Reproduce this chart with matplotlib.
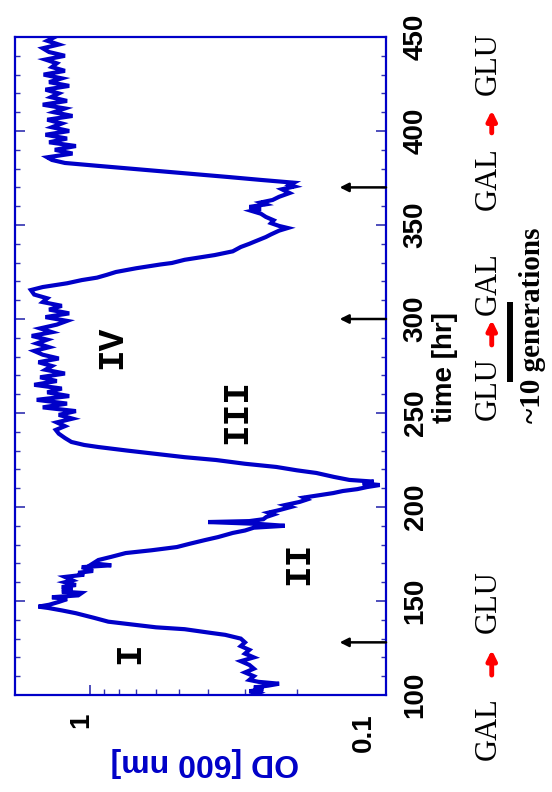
import numpy as np
import matplotlib
matplotlib.use('Agg')
import matplotlib.pyplot as plt
from matplotlib.transforms import blended_transform_factory, ScaledTranslation
from matplotlib.ticker import NullFormatter

# growth curve: time [hr] and OD [600 nm]
t_hr = [100, 101, 102, 103, 104, 105, 106, 107, 108, 110, 112, 114, 116, 118, 120,
        122, 124, 126, 128, 130,
        132, 133, 135, 136, 137.5, 139, 141, 143.5, 145, 146.3, 147,
        148, 149.5, 151, 152, 153, 154.3, 155, 156, 157.4, 158.5, 160, 161, 162.8,
        164, 165, 166, 168, 169, 170, 171.8,
        173.5, 175.5, 177, 178.7, 180.5, 182.4, 184, 186.2, 187.5, 189, 190, 191,
        192, 192.5, 193.5, 194.7, 196, 197, 198.4,
        200, 201, 202.7, 204, 205, 207.4, 208.5, 209.5, 210.6, 211.7, 212.5, 213.5,
        214.4, 216, 218.1, 219.5, 221.3, 223, 225,
        226.5, 228.7, 230, 231.9, 233, 234.6, 236.7, 239, 241,
        243, 245, 247, 249, 251, 253, 255, 257, 259, 261, 263, 265, 267, 269, 271,
        273, 275, 277, 279, 281, 283, 285, 287, 289, 291, 293, 295, 297, 299, 301,
        303, 305, 307, 309, 311, 313, 315.4,
        317, 319, 320.7, 322, 323.5, 325, 327, 329, 329.8, 331.5, 334, 336, 338.3,
        340, 341, 343.6, 345, 347, 348.4, 349.5, 351, 352.5, 354.3, 356, 357.5,
        358.5, 359.6, 361, 362, 363.3, 365, 367, 369, 370.5, 371.3, 372.5,
        374, 375.5, 377, 378.5, 380, 381.5, 383, 384.6,
        386, 388, 390, 392, 394, 396, 398, 400, 402, 404, 406, 408, 410, 412, 414,
        416, 418, 420, 422, 424, 426, 428, 430, 432, 434, 436, 438, 440, 442, 444,
        446, 448, 450]

od = [0.28, 0.27, 0.29, 0.26, 0.28, 0.25, 0.23, 0.27, 0.29, 0.28, 0.30, 0.28,
      0.29, 0.31, 0.28, 0.30, 0.29, 0.31, 0.30, 0.31,
      0.35, 0.39, 0.48, 0.60, 0.72, 0.87, 0.97, 1.12, 1.25, 1.39, 1.50,
      1.38, 1.28, 1.20, 1.35, 1.10, 1.07, 1.25, 1.15, 1.25, 1.12, 1.22, 1.15, 1.22,
      1.05, 1.10, 0.98, 1.07, 0.85, 0.98, 0.94,
      0.85, 0.76, 0.62, 0.51, 0.46, 0.41, 0.37, 0.33, 0.30, 0.28, 0.22, 0.27,
      0.40, 0.29, 0.26, 0.254, 0.24, 0.25, 0.229,
      0.21, 0.22, 0.196, 0.185, 0.19, 0.151, 0.14, 0.125, 0.116, 0.105, 0.12, 0.11,
      0.133, 0.15, 0.172, 0.20, 0.235, 0.30, 0.376,
      0.48, 0.635, 0.75, 0.94, 1.05, 1.16, 1.22, 1.28, 1.31,
      1.22, 1.30, 1.15, 1.28, 1.12, 1.45, 1.20, 1.52, 1.18, 1.40, 1.25, 1.55, 1.30,
      1.48, 1.22, 1.42, 1.35, 1.50, 1.28, 1.45, 1.55, 1.38, 1.52, 1.40, 1.58, 1.35,
      1.48, 1.30, 1.20, 1.42, 1.18, 1.38, 1.25, 1.45, 1.40, 1.55, 1.59,
      1.45, 1.20, 1.07, 0.95, 0.88, 0.82, 0.70, 0.58, 0.53, 0.48, 0.38, 0.33, 0.31,
      0.29, 0.28, 0.255, 0.245, 0.23, 0.215, 0.23, 0.245, 0.24, 0.255, 0.265, 0.285,
      0.265, 0.29, 0.255, 0.265, 0.242, 0.23, 0.212, 0.225, 0.204, 0.212, 0.205,
      0.266, 0.34, 0.44, 0.57, 0.73, 0.95, 1.22, 1.35,
      1.40, 1.15, 1.32, 1.12, 1.38, 1.20, 1.42, 1.18, 1.35, 1.25, 1.40, 1.15, 1.33,
      1.22, 1.45, 1.20, 1.36, 1.28, 1.42, 1.18, 1.38, 1.25, 1.44, 1.22, 1.35, 1.30,
      1.42, 1.22, 1.38, 1.45, 1.28, 1.40, 1.32]

# medium switch times (black arrows)
switch_t = [128, 300, 370]

# phase labels: (text, OD, time)
phases = [('I', 0.736, 122), ('II', 0.198, 170), ('III', 0.32, 250.5), ('IV', 0.849, 285)]

# medium annotations on the right:
# (from, to, t where 'from' ends, arrow tail, arrow head, t where 'to' starts)
media = [('GAL', 'GLU', 99, 110.6, 124, 133),
         ('GLU', 'GAL', 279.8, 286.2, 299.5, 302.1),
         ('GAL', 'GLU', 391.5, 399, 411, 419)]

blue = '#0000c8'
tickblue = '#3030b0'

fig = plt.figure(figsize=(5.52, 7.92), dpi=100)
ax = fig.add_axes([15/552, 97/792, 371/552, 658/792])

ax.plot(od, t_hr, color=blue, lw=3.0, solid_joinstyle='miter')

ax.set_xscale('log')
ax.set_xlim(1.8, 0.1)
ax.set_ylim(100, 450)

for s in ax.spines.values():
    s.set_color(blue)
    s.set_linewidth(1.6)

# OD axis (bottom)
ax.set_xticks([0.1, 1])
ax.set_xticklabels(['0.1', '1'])
ax.set_xticks([0.2, 0.3, 0.4, 0.5, 0.6, 0.7, 0.8, 0.9], minor=True)
ax.xaxis.set_minor_formatter(NullFormatter())
ax.tick_params(axis='x', which='both', direction='in', bottom=True, top=False,
               color=tickblue, labelrotation=90, pad=13)
ax.tick_params(axis='x', which='major', length=7, width=1.2)
ax.tick_params(axis='x', which='minor', length=4, width=1.0)
for lbl, dx in zip(ax.get_xticklabels(), [-22, -9]):
    lbl.set_fontfamily('Liberation Sans')
    lbl.set_fontweight('bold')
    lbl.set_fontsize(20)
    lbl.set_transform(lbl.get_transform() + ScaledTranslation(dx/100, 0, fig.dpi_scale_trans))

# time axis (right labels)
ax.set_yticks(np.arange(100, 451, 50))
ax.set_yticks(np.arange(100, 451, 10), minor=True)
ax.tick_params(axis='y', which='both', direction='in', left=True, right=True,
               labelleft=False, labelright=True, color=tickblue, pad=12)
ax.tick_params(axis='y', which='major', length=7, width=1.2)
ax.tick_params(axis='y', which='minor', length=3.5, width=1.0)
for lbl in ax.get_yticklabels():
    lbl.set_rotation(90)
    lbl.set_va('center')
    lbl.set_fontfamily('Liberation Sans')
    lbl.set_fontweight('bold')
    lbl.set_fontsize(20)

ax.yaxis.set_label_position('right')
ax.set_ylabel('time [hr]', fontfamily='Liberation Sans', fontweight='bold', fontsize=20)
ax.yaxis.set_label_coords(1.124, 0.497)

ax.set_xlabel('OD [600 nm]', fontfamily='Liberation Sans', fontweight='bold',
              fontsize=23, color=blue, rotation=180)
ax.xaxis.set_label_coords(0.512, -0.079)

# switch arrows
for t in switch_t:
    ax.annotate('', xy=(0.1435, t), xytext=(0.1, t), annotation_clip=False,
                arrowprops=dict(arrowstyle='-|>', color='black', lw=1.8,
                                mutation_scale=13, shrinkA=0, shrinkB=0))

for txt, x, t in phases:
    ax.text(x, t, txt, rotation=90, ha='center', va='center',
            fontfamily='Liberation Mono', fontweight='bold', fontsize=26)

tr = blended_transform_factory(ax.transAxes, ax.transData)
for a, b, t0, ta, th, t1 in media:
    ax.text(1.275, t0, a, transform=tr, rotation=90, ha='center', va='top',
            fontfamily='Liberation Serif', fontsize=22, clip_on=False)
    ax.text(1.275, t1, b, transform=tr, rotation=90, ha='center', va='bottom',
            fontfamily='Liberation Serif', fontsize=22, clip_on=False)
    ax.annotate('', xy=(1.285, th), xytext=(1.285, ta), xycoords=tr, textcoords=tr,
                annotation_clip=False,
                arrowprops=dict(arrowstyle='-|>', color='red', lw=3.5,
                                mutation_scale=14, shrinkA=0, shrinkB=0))

ax.plot([1.334, 1.334], [266.5, 309], transform=tr, color='black', lw=4.3,
        clip_on=False, solid_capstyle='butt')
ax.text(1.395, 296.8, '~10 generations', transform=tr, rotation=90, ha='center',
        va='center', fontfamily='Liberation Serif', fontweight='bold', fontsize=21,
        clip_on=False)

fig.savefig('out.png', dpi=100)
